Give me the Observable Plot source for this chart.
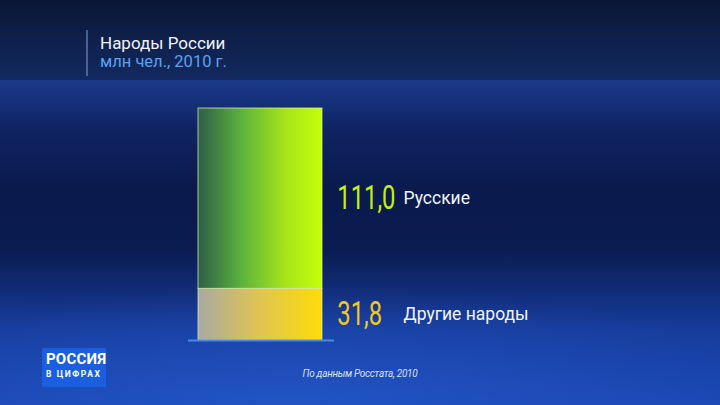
<!DOCTYPE html>
<html>
<head>
<meta charset="utf-8">
<script src="https://cdn.jsdelivr.net/npm/d3@7"></script>
<script src="https://cdn.jsdelivr.net/npm/@observablehq/plot@0.6"></script>
<style>
  html, body { margin: 0; padding: 0; background: #0b1a48; }
  #wrap {
    position: relative; width: 720px; height: 405px; overflow: hidden;
    background:
      radial-gradient(ellipse 70% 30% at 40% 100%, rgba(40,95,210,0.55), rgba(40,95,210,0) 100%),
      linear-gradient(to bottom, #1a3a8c 80px, #0f2362 130px, #0a1a4c 190px, #0b1c52 250px, #173c9c 330px, #1a47b4 405px);
    font-family: Roboto, "Noto Sans", sans-serif;
  }
  #header {
    position: relative; height: 80px;
    background: linear-gradient(to bottom, #0a1634 0%, #0f2250 60%, #142a5e 100%);
  }
  #vline {
    position: absolute; left: 86px; top: 30px; width: 2px; height: 46px;
    background: rgba(120,150,200,0.55);
  }
  #title {
    position: absolute; left: 100px; top: 33px; color: #f2f4f8; font-size: 17px; line-height: 20px;
  }
  #subtitle {
    position: absolute; left: 100px; top: 52px; color: #5aa2f2; font-size: 16.5px; line-height: 20px;
  }
  #plot { position: relative; }
  #plot svg { display: block; background: transparent; }
  #logo {
    position: absolute; left: 42px; top: 348px; width: 64px; height: 39px;
    background: #1b5fe0; color: #fff;
  }
  #logo .l1 { position: absolute; left: 4px; top: 3px; font-size: 15px; font-weight: 700; line-height: 16px; letter-spacing: 0.2px; }
  #logo .l2 { position: absolute; left: 4px; top: 21px; font-size: 8.5px; font-weight: 700; line-height: 10px; letter-spacing: 1.6px; }
  #caption {
    position: absolute; left: 0; width: 720px; top: 368px; text-align: center;
    color: #d8e0f0; font-size: 10px; font-style: italic; letter-spacing: -0.3px;
  }
</style>
</head>
<body>
<div id="wrap">
  <div id="header">
    <div id="vline"></div>
    <div id="title">Народы России</div>
    <div id="subtitle">млн чел., 2010 г.</div>
  </div>
  <div id="plot"></div>
  <div id="logo"><div class="l1">РОССИЯ</div><div class="l2">В ЦИФРАХ</div></div>
  <div id="caption">По данным Росстата, 2010</div>
</div>
<script>
// Data
const year = "2010";
const groups = ["Другие народы", "Русские"];
const values = [31.8, 111.0];
const gradients = ["url(#gradOthers)", "url(#gradRus)"];
const numberColors = ["#f2c81a", "#c6ee10"];

const data = groups.map((g, i) => ({ year, group: g, value: values[i] }));
const fmt = v => v.toFixed(1).replace(".", ",");
const numDx = 76;
const numSqueeze = 0.72;

const chart = Plot.plot({
  width: 720,
  height: 325,
  marginTop: 28,
  marginBottom: 65,
  marginLeft: 188,
  marginRight: 386,
  style: { background: "transparent", overflow: "visible" },
  x: { axis: null, domain: [year], padding: 0 },
  y: { axis: null, nice: false },
  color: { domain: groups, range: gradients },
  marks: [
    Plot.barY(data, Plot.stackY({
      x: "year", y: "value", fill: "group", order: null,
      insetLeft: 10, insetRight: 12,
      stroke: "rgba(215,240,170,0.75)", strokeWidth: 1
    })),
    Plot.ruleY([0], { stroke: "#4f86e6", strokeWidth: 2 }),
    Plot.text(data, Plot.stackY({
      x: "year", y: "value", order: null,
      text: d => fmt(d.value),
      fill: d => numberColors[groups.indexOf(d.group)],
      dx: numDx, textAnchor: "start",
      fontFamily: "Roboto, 'Noto Sans', sans-serif",
      fontSize: 33, fontWeight: 400,
      className: "numlabels"
    })),
    Plot.text(data, Plot.stackY({
      x: "year", y: "value", order: null,
      text: "group",
      fill: "#f2f4f8",
      dx: 142, textAnchor: "start",
      fontFamily: "Roboto, 'Noto Sans', sans-serif",
      fontSize: 17.5
    }))
  ]
});

const defs = `<defs>
  <linearGradient id="gradRus" x1="0" x2="1" y1="0" y2="0">
    <stop offset="0%" stop-color="#2d5e48"/>
    <stop offset="35%" stop-color="#5cb23c"/>
    <stop offset="70%" stop-color="#a6e41a"/>
    <stop offset="100%" stop-color="#c4ff08"/>
  </linearGradient>
  <linearGradient id="gradOthers" x1="0" x2="1" y1="0" y2="0">
    <stop offset="0%" stop-color="#a9aaa2"/>
    <stop offset="45%" stop-color="#dcc258"/>
    <stop offset="100%" stop-color="#ffdc08"/>
  </linearGradient>
</defs>`;
chart.insertAdjacentHTML("afterbegin", defs);

// condense the number labels horizontally around their common start point
const xs = chart.scale("x");
const origin = xs.apply(year) + xs.bandwidth / 2 + numDx;
const g = chart.querySelector("g.numlabels");
if (g) {
  const tr = g.getAttribute("transform") || "";
  g.setAttribute("transform",
    `translate(${origin},0) scale(${numSqueeze},1) translate(${-origin},0) ${tr}`);
}

document.getElementById("plot").appendChild(chart);
</script>
</body>
</html>
